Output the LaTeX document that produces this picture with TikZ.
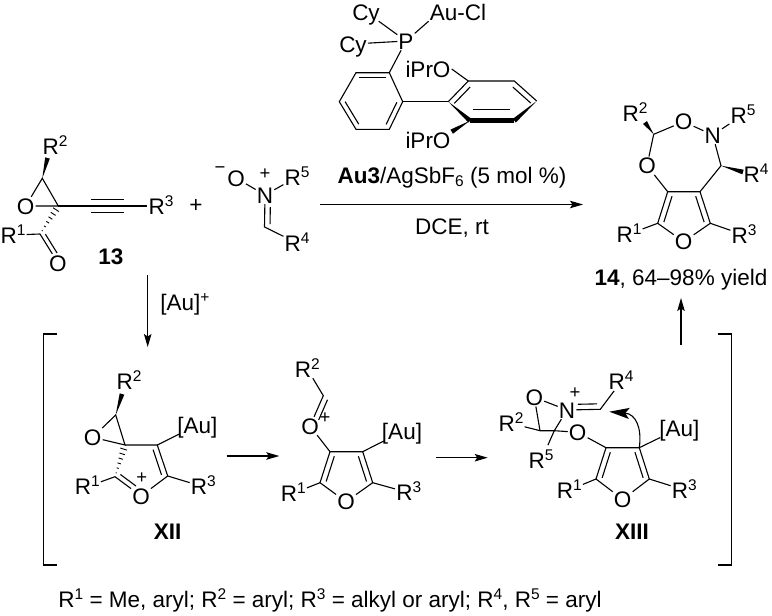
\documentclass[tikz,border=0pt]{standalone}
\usepackage{fontspec}
\setmainfont{Liberation Sans}
\usetikzlibrary{calc,arrows.meta}
\newcommand{\rsup}[1]{\raisebox{8pt}{\fontsize{15.5}{15.5}\selectfont #1}}
\newcommand{\rsub}[1]{\raisebox{-3pt}{\fontsize{15.5}{15.5}\selectfont #1}}
\newcommand{\innerbond}[4][]{\draw[bond,shorten <=3pt,shorten >=3pt,#1] ($(#2)!#4pt!90:(#3)$) -- ($(#3)!#4pt!-90:(#2)$);}
\newcommand{\wedgebond}[2]{\fill ($(#1)$) -- ($(#2)!2.4pt!90:(#1)$) -- ($(#2)!2.4pt!-90:(#1)$) -- cycle;}
\newcommand{\hashbond}[2]{\foreach \hx in {0.12,0.27,...,1.0}{\draw[line width=.9pt] ($(#1)!\hx!(#2)!\hx*4pt!90:(#2)$) -- ($(#1)!\hx!(#2)!\hx*4pt!-90:(#2)$);}}
\begin{document}
\begin{tikzpicture}[x=1pt,y=-1pt,
      every node/.style = {font=\fontsize{22.5}{26}\selectfont},
      atom/.style = {inner sep=1pt, text height=16pt, text depth=0pt},
      charge/.style = {inner sep=0pt, font=\fontsize{18.5}{18.5}\selectfont},
      bond/.style = {line width=1.1pt},
      arrow/.style = {line width=1.1pt, -{Stealth[length=13pt,width=7.5pt,inset=2.5pt]}}]
    \useasboundingbox (0,0) rectangle (772,616);

    \node[atom] (aR2) at (55,146) {R\rsup{2}};
    \node[atom] (aO) at (25.7,206) {O};
    \node[atom] (aR3) at (161,206) {R\rsup{3}};
    \node[atom] (aR1) at (13,235) {R\rsup{1}};
    \node[atom] (aO2) at (58,263) {O};
    \coordinate (aC1) at (42.3,178.3);
    \coordinate (aW) at (47.5,158);
    \coordinate (aC2) at (58.3,206);
    \coordinate (aC3) at (40,234);
    \coordinate (aT1) at (91,206);
    \coordinate (aT2) at (124,206);
    \wedgebond{aC1}{aW}
    \hashbond{aC3}{aC2}
    \draw[bond] (aO) -- (aC1) -- (aC2) -- (aO);
    \draw[bond] (aC2) -- (aT1) (aT2) -- (aR3);
    \draw[bond] (aT1) -- (aT2);
    \innerbond[shorten <=0pt,shorten >=0pt]{aT1}{aT2}{6.2}
    \innerbond[shorten <=0pt,shorten >=0pt]{aT1}{aT2}{-6.2}
    \draw[bond] (aR1) -- (aC3) -- (aO2);
    \innerbond[shorten <=3pt,shorten >=9pt]{aC3}{aO2}{4.5}
    \node (lab13) at (111,257) {\textbf{13}};
    \node (plus) at (196,206) {+};

    \node[atom] (nO) at (236,178) {O};
    \node[charge] (nM) at (220,170) {−};
    \node[atom] (nN) at (265,195) {N};
    \node[charge] (nP) at (265,174) {+};
    \node[atom] (nR5) at (297,177) {R\rsup{5}};
    \node[atom] (nR4) at (297,243) {R\rsup{4}};
    \coordinate (nC) at (264.5,227);
    \draw[bond] (nO) -- (nN) -- (nR5);
    \draw[bond] (nN) -- (nC) -- (nR4);
    \innerbond[shorten <=12pt,shorten >=3pt]{nN}{nC}{5.5}

    \node[atom] (kCy1) at (366,12) {Cy};
    \node[atom] (kCy2) at (353,44) {Cy};
    \node[atom] (kAu) at (458,12) {Au-Cl};
    \node[atom] (kP) at (406,41) {P};
    \coordinate (k1) at (389.3,72.7);
    \coordinate (k2) at (402.7,101.7);
    \coordinate (k3) at (389.3,129.3);
    \coordinate (k4) at (356,129.3);
    \coordinate (k5) at (339.3,101.7);
    \coordinate (k6) at (356,72.7);
    \coordinate (r1) at (448.3,101.7);
    \coordinate (r2) at (468.3,81);
    \coordinate (r3) at (514.3,81);
    \coordinate (r4) at (536.7,101);
    \coordinate (r5) at (514.3,120.7);
    \coordinate (r6) at (470,120.7);
    \coordinate (kW) at (451.7,131.7);
    \node[atom] (kO1) at (428,69) {iPrO};
    \node[atom] (kO2) at (428,140) {iPrO};
    \draw[bond] (kCy1) -- (kP);
    \draw[bond] (kCy2) -- (kP);
    \draw[bond] (kP) -- (kAu.south west);
    \draw[bond] (kP) -- (k1);
    \draw[bond] (k1) -- (k2) -- (k3) -- (k4) -- (k5) -- (k6) -- cycle;
    \innerbond{k1}{k6}{5}
    \innerbond{k3}{k2}{5}
    \innerbond{k5}{k4}{5}
    \draw[bond] (k2) -- (r1);
    \draw[bond] (r1) -- (r2) -- (r3) -- (r4);
    \innerbond{r2}{r1}{5.5}
    \innerbond{r4}{r3}{5.5}
    \innerbond[shorten <=3pt,shorten >=4pt]{r6}{r5}{11}
    \draw[bond] (kO1.east) -- (r2);
    \wedgebond{r1}{r6}
    \draw[line width=4.8pt] (r6) -- (r5);
    \wedgebond{r4}{r5}
    \wedgebond{r6}{kW}

    \coordinate (mainS) at (320,204.5);
    \coordinate (mainE) at (583,204.5);
    \draw[arrow] (mainS) -- (mainE);
    \node (reag) at (452,178) {\textbf{Au3}/AgSbF\rsub{6} (5 mol \%)};
    \node (solv) at (452,228) {DCE, rt};

    \node[atom] (pR2) at (635,113) {R\rsup{2}};
    \node[atom] (pR5) at (743,115) {R\rsup{5}};
    \node[atom] (pO1) at (683.7,121.7) {O};
    \node[atom] (pN) at (712.7,135) {N};
    \node[atom] (pO2) at (647,165.7) {O};
    \node[atom] (pR4) at (756,174) {R\rsup{4}};
    \node[atom] (pO3) at (683.7,241.7) {O};
    \node[atom] (pR1) at (629,234) {R\rsup{1}};
    \node[atom] (pR3) at (744,235) {R\rsup{3}};
    \coordinate (pC1) at (653.7,134.3);
    \coordinate (pW1) at (645,122.5);
    \coordinate (pC2) at (721,165.7);
    \coordinate (pW2) at (743,172);
    \coordinate (pA) at (667.7,191.7);
    \coordinate (pB) at (700,191.7);
    \coordinate (pD) at (710.3,223.3);
    \coordinate (pE) at (657.7,223.3);
    \wedgebond{pC1}{pW1}
    \wedgebond{pC2}{pW2}
    \draw[bond] (pC1) -- (pO1) -- (pN) -- (pR5);
    \draw[bond] (pC1) -- (pO2) -- (pA) -- (pB) -- (pC2) -- (pN);
    \draw[bond] (pA) -- (pE) -- (pO3) -- (pD) -- (pB);
    \draw[bond] (pE) -- (pR1);
    \draw[bond] (pD) -- (pR3);
    \innerbond{pA}{pE}{5.5}
    \innerbond{pD}{pB}{5.5}
    \node (lab14) at (681,280) {\textbf{14}, 64–98\% yield};

    \coordinate (upS) at (681,345);
    \coordinate (upE) at (681,298);
    \draw[arrow] (upS) -- (upE);
    \coordinate (downS) at (147.7,275);
    \coordinate (downE) at (147.7,347);
    \draw[arrow] (downS) -- (downE);
    \node (auplus) at (185,304) {[Au]\rsup{+}};

    \draw[bond] (57.3,334) -- (43.3,334) -- (43.3,565) -- (57.3,565);
    \draw[bond] (717.7,334) -- (731.7,334) -- (731.7,565) -- (717.7,565);

    \node[atom] (xR2) at (129,381) {R\rsup{2}};
    \node[atom] (xO) at (92.7,437.3) {O};
    \node[atom] (xAu) at (197.3,425) {[Au]};
    \node[atom] (xR3) at (203.3,486.7) {R\rsup{3}};
    \node[atom] (xR1) at (87.3,486.7) {R\rsup{1}};
    \node[atom] (xO2) at (141,496) {O};
    \node[charge] (xP) at (141.7,478.3) {+};
    \coordinate (xC1) at (115.7,415);
    \coordinate (xW) at (122,394);
    \coordinate (xS) at (125,445);
    \coordinate (xC3) at (157.3,445);
    \coordinate (xC4) at (167.7,476);
    \coordinate (xC5) at (115,476.7);
    \wedgebond{xC1}{xW}
    \hashbond{xC5}{xS}
    \draw[bond] (xO) -- (xC1) -- (xS) -- (xO);
    \draw[bond] (xS) -- (xC3) -- (xC4) -- (xO2) -- (xC5) -- (xR1);
    \draw[bond] (xC3) -- (xAu);
    \draw[bond] (xC4) -- (xR3);
    \innerbond{xC4}{xC3}{5.5}
    \innerbond[shorten <=3pt,shorten >=10pt]{xC5}{xO2}{5}
    \node (labXII) at (167.7,531.7) {\textbf{XII}};

    \coordinate (a1S) at (226.7,456);
    \coordinate (a1E) at (279.3,456);
    \draw[arrow] (a1S) -- (a1E);

    \node[atom] (mR2) at (307.3,369) {R\rsup{2}};
    \node[atom] (mO) at (310,426) {O};
    \node[charge] (mP) at (325,418.3) {+};
    \node[atom] (mAu) at (402,431.7) {[Au]};
    \node[atom] (mO2) at (346,501.7) {O};
    \node[atom] (mR1) at (293.3,493.3) {R\rsup{1}};
    \node[atom] (mR3) at (408.7,492.7) {R\rsup{3}};
    \coordinate (mC) at (323.3,395.7);
    \coordinate (mA) at (330,451.7);
    \coordinate (mB) at (362.7,451.7);
    \coordinate (mD) at (372.7,482.7);
    \coordinate (mE) at (320,482.7);
    \draw[bond] (mR2) -- (mC) -- (mO) -- (mA) -- (mB) -- (mD) -- (mO2) -- (mE) -- (mA);
    \draw[bond] (mE) -- (mR1);
    \draw[bond] (mD) -- (mR3);
    \draw[bond] (mB) -- (mAu);
    \innerbond[shorten <=2pt,shorten >=9pt]{mC}{mO}{5.5}
    \innerbond{mA}{mE}{5.5}
    \innerbond{mD}{mB}{5.5}

    \coordinate (a2S) at (436,457.7);
    \coordinate (a2E) at (487.7,457.7);
    \draw[arrow] (a2S) -- (a2E);

    \node[atom] (yO1) at (534.3,397.3) {O};
    \node[atom] (yN) at (567,410) {N};
    \node[charge] (yP) at (575,393.3) {+};
    \node[atom] (yR4) at (621,381.7) {R\rsup{4}};
    \node[atom] (yR2) at (511,423.3) {R\rsup{2}};
    \node[atom] (yR5) at (541,460.7) {R\rsup{5}};
    \node[atom] (yO2) at (577.7,432.3) {O};
    \node[atom] (yAu) at (679.3,428.3) {[Au]};
    \node[atom] (yO3) at (622.7,499.3) {O};
    \node[atom] (yR1) at (569.3,490) {R\rsup{1}};
    \node[atom] (yR3) at (684.3,490) {R\rsup{3}};
    \coordinate (yCH) at (600.3,409.3);
    \coordinate (yC1) at (540,430.7);
    \coordinate (yC2) at (554.3,430.7);
    \coordinate (yA) at (606,447.7);
    \coordinate (yB) at (639.3,447.7);
    \coordinate (yD) at (649.3,479);
    \coordinate (yE) at (596,479);
    \coordinate (yT) at (609.3,411.7);
    \draw[bond] (yC1) -- (yO1) -- (yN) -- (yC2);
    \draw[bond] (yR2) -- (yC1) -- (yC2) -- (yO2) -- (yA) -- (yB) -- (yD) -- (yO3) -- (yE) -- (yA);
    \draw[bond,shorten >=7pt] (yC2) -- (yR5);
    \draw[bond] (yN) -- (yCH) -- (yR4);
    \draw[bond] (yE) -- (yR1);
    \draw[bond] (yD) -- (yR3);
    \draw[bond] (yB) -- (yAu);
    \innerbond[shorten <=11pt,shorten >=3pt]{yN}{yCH}{5.5}
    \innerbond{yA}{yE}{5.5}
    \innerbond{yD}{yB}{5.5}
    \draw[line width=1.1pt,-{Stealth[length=20pt,width=11pt,inset=4pt]}] (yB) .. controls (642,428) and (636,414) .. (yT);
    \node (labXIII) at (632,531.7) {\textbf{XIII}};

    \node (foot) at (330,600) {R\rsup{1} = Me, aryl; R\rsup{2} = aryl; R\rsup{3} = alkyl or aryl; R\rsup{4}, R\rsup{5} = aryl};
\end{tikzpicture}
\end{document}
